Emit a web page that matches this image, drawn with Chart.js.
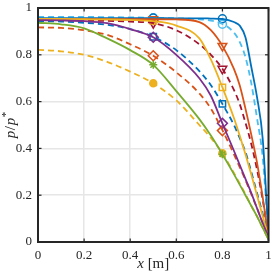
<!DOCTYPE html>
<html><head><meta charset="utf-8">
<script src="https://cdn.jsdelivr.net/npm/chart.js@4.4.0/dist/chart.umd.min.js"></script>
<style>html,body{margin:0;padding:0;background:#fff;}#wrap{width:275px;height:275px;}</style>
</head><body><div id="wrap"><canvas id="c" width="275" height="275"></canvas></div>
<script>
// ---- data ----
const xGrid = [0,0.1,0.2,0.3,0.4,0.5,0.6,0.7,0.75,0.8,0.85,0.875,0.9,0.925,0.95,0.975,1];
const xTicks = [0,0.2,0.4,0.6,0.8,1];
const yTicks = [0,0.2,0.4,0.6,0.8,1];
const markerX = [0.5, 0.8];

const blueSolid    = [0.957,0.957,0.957,0.957,0.957,0.957,0.956,0.956,0.955,0.953,0.94,0.925,0.875,0.75,0.62,0.44,0.02];
const cyanDashed   = [0.962,0.962,0.962,0.961,0.96,0.958,0.956,0.952,0.946,0.932,0.895,0.855,0.79,0.68,0.53,0.36,0.02];
const orangeSolid  = [0.952,0.952,0.952,0.952,0.952,0.952,0.951,0.94,0.905,0.838,0.74,0.67,0.57,0.46,0.34,0.19,0.02];
const redDashed    = [0.947,0.947,0.946,0.945,0.942,0.935,0.905,0.845,0.8,0.74,0.65,0.59,0.51,0.42,0.31,0.18,0.02];
const yellowSolid  = [0.953,0.953,0.952,0.951,0.949,0.944,0.925,0.87,0.78,0.661,0.53,0.455,0.375,0.29,0.2,0.11,0.02];
const blueDashed   = [0.944,0.942,0.937,0.928,0.91,0.877,0.82,0.73,0.67,0.59,0.5,0.445,0.385,0.3,0.21,0.12,0.02];
const purpleSolid  = [0.948,0.947,0.944,0.935,0.91,0.875,0.8,0.7,0.625,0.507,0.39,0.33,0.27,0.21,0.145,0.08,0.02];
const orangeDashed = [0.917,0.915,0.905,0.885,0.845,0.796,0.725,0.635,0.57,0.478,0.375,0.32,0.265,0.205,0.145,0.08,0.02];
const greenSolid   = [0.937,0.93,0.913,0.87,0.82,0.757,0.645,0.525,0.455,0.375,0.29,0.245,0.2,0.155,0.11,0.06,0.01];
const yellowDashed = [0.821,0.815,0.8,0.77,0.728,0.678,0.605,0.5,0.445,0.379,0.295,0.25,0.205,0.155,0.11,0.06,0.01];

const blueCircle     = [0.957, 0.954];
const cyanCircle     = [0.958, 0.931];
const orangeTriangle = [0.952, 0.838];
const redTriangle    = [0.935, 0.74];
const yellowSquare   = [0.945, 0.661];
const blueSquare     = [0.877, 0.59];
const purpleDiamond  = [0.875, 0.507];
const orangeDiamond  = [0.796, 0.476];
const greenStar      = [0.757, 0.375];
const yellowDot      = [0.678, 0.379];

// ---- styling ----
const C = {blue:'#0072BD', orange:'#D95319', yellow:'#EDB120', purple:'#7E2F8E', green:'#77AC30', cyan:'#4DBEEE', red:'#A2142F'};
const toXY = (xs, ys) => xs.map((x,i)=>({x, y: ys[i]}));
const lineDs = (ys, color, dashed) => ({
  data: toXY(xGrid, ys), showLine: true, borderColor: color, borderWidth: 1.8,
  borderDash: dashed ? [6,4] : [], pointRadius: 0, cubicInterpolationMode: 'monotone', fill: false
});
const markDs = (ys, color, style, r, filled, rot) => ({
  data: toXY(markerX, ys), showLine: false, pointStyle: style, pointRadius: r,
  pointRotation: rot || 0, borderColor: color, pointBorderWidth: 1.5, borderWidth: 1.5,
  backgroundColor: filled ? color : 'rgba(255,255,255,0)', pointBackgroundColor: filled ? color : 'rgba(255,255,255,0)'
});

const datasets = [
  lineDs(greenSolid, C.green, false),
  lineDs(yellowDashed, C.yellow, true),
  lineDs(purpleSolid, C.purple, false),
  lineDs(orangeDashed, C.orange, true),
  lineDs(yellowSolid, C.yellow, false),
  lineDs(blueDashed, C.blue, true),
  lineDs(orangeSolid, C.orange, false),
  lineDs(redDashed, C.red, true),
  lineDs(blueSolid, C.blue, false),
  lineDs(cyanDashed, C.cyan, true),
  markDs(greenStar, C.green, 'star', 4, false),
  markDs(yellowDot, C.yellow, 'circle', 3.5, true),
  markDs(purpleDiamond, C.purple, 'rectRot', 5, false),
  markDs(orangeDiamond, C.orange, 'rectRot', 5, false),
  markDs(yellowSquare, C.yellow, 'rect', 4.5, false),
  markDs(blueSquare, C.blue, 'rect', 4.5, false),
  markDs(orangeTriangle, C.orange, 'triangle', 5, false, 180),
  markDs(redTriangle, C.red, 'triangle', 5, false, 180),
  markDs(blueCircle, C.blue, 'circle', 4, false),
  markDs(cyanCircle, C.cyan, 'circle', 4, false)
];

const AX = '#262626';
const tickFont = {family: 'Liberation Serif', size: 13};

const framePlugin = {
  id: 'frame',
  afterDatasetsDraw(chart) {
    const {ctx, chartArea: a, scales: {x, y}} = chart;
    ctx.save();
    ctx.strokeStyle = AX;
    ctx.lineWidth = 1.2;
    const L = 3.5;
    const seg = (x1,y1,x2,y2)=>{ctx.beginPath();ctx.moveTo(x1,y1);ctx.lineTo(x2,y2);ctx.stroke();};
    xTicks.forEach(v=>{const p=x.getPixelForValue(v); seg(p,a.bottom,p,a.bottom-L); seg(p,a.top,p,a.top+L);});
    yTicks.forEach(v=>{const p=y.getPixelForValue(v); seg(a.left,p,a.left+L,p); seg(a.right,p,a.right-L,p);});
    ctx.lineWidth = 2;
    ctx.strokeRect(a.left, a.top, a.right - a.left, a.bottom - a.top);
    ctx.restore();
  },
  afterDraw(chart) {
    const {ctx, chartArea: a} = chart;
    ctx.save();
    ctx.fillStyle = AX;
    ctx.textBaseline = 'middle';
    // x title: "x [m]"
    const fI = 'italic 15px "Liberation Serif"', fR = '15px "Liberation Serif"';
    ctx.font = fI; const w1 = ctx.measureText('x').width;
    ctx.font = fR; const w2 = ctx.measureText(' [m]').width;
    let sx = (a.left + a.right)/2 - (w1 + w2)/2;
    const ty = 264;
    ctx.textAlign = 'left';
    ctx.font = fI; ctx.fillText('x', sx, ty);
    ctx.font = fR; ctx.fillText(' [m]', sx + w1, ty);
    // y title: "p/p*"
    ctx.translate(11, (a.top + a.bottom)/2);
    ctx.rotate(-Math.PI/2);
    const parts = [['p', fI, 0, 0.5], ['/', fR, 0, 1], ['p', fI, 0, 0.5], ['*', '11px "Liberation Serif"', -5, 0]];
    let tw = 0; parts.forEach(p=>{ctx.font=p[1]; p.push(ctx.measureText(p[0]).width + p[3]); tw += p[4];});
    let cx = -tw/2;
    parts.forEach(p=>{ctx.font=p[1]; ctx.fillText(p[0], cx, p[2]); cx += p[4];});
    ctx.restore();
  }
};

const noPad = s => { s.paddingTop = 0; s.paddingBottom = 0; s.paddingLeft = 0; s.paddingRight = 0; };

new Chart(document.getElementById('c'), {
  type: 'scatter',
  data: {datasets},
  options: {
    responsive: false, animation: false, devicePixelRatio: 1,
    layout: {padding: {left: 0, top: 8, right: 6.5, bottom: 0}},
    plugins: {legend: {display: false}, tooltip: {enabled: false}},
    scales: {
      x: {
        type: 'linear', min: 0, max: 1,
        afterBuildTicks: s => { s.ticks = xTicks.map(v=>({value: v})); },
        afterFit: s => { s.height = 33; noPad(s); },
        grid: {color: '#e6e6e6', lineWidth: 1.5, drawTicks: false},
        border: {display: false},
        ticks: {font: tickFont, color: AX, padding: 6, maxRotation: 0, callback: v => String(v)}
      },
      y: {
        type: 'linear', min: 0, max: 1,
        afterBuildTicks: s => { s.ticks = yTicks.map(v=>({value: v})); },
        afterFit: s => { s.width = 38; noPad(s); },
        grid: {color: '#e6e6e6', lineWidth: 1.5, drawTicks: false},
        border: {display: false},
        ticks: {font: tickFont, color: AX, padding: 6, callback: v => String(v)}
      }
    }
  },
  plugins: [framePlugin]
});
</script></body></html>
